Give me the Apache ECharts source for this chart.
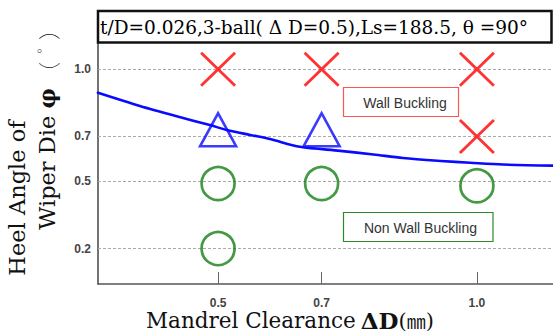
<!DOCTYPE html>
<html><head><meta charset="utf-8">
<script src="https://cdn.jsdelivr.net/npm/echarts@6/dist/echarts.min.js"></script>
<style>html,body{margin:0;padding:0;background:#fff}#c{width:553px;height:334px}</style>
</head><body><div id="c"></div>
<script>
// ---- data ----
const xTicks = [0.5, 0.7, 1.0];
const yTicks = [0.2, 0.5, 0.7, 1.0];
const wallBuckling = [[0.5, 1.0], [0.7, 1.0], [1.0, 1.0], [1.0, 0.7]];
const transition = [[0.5, 0.73], [0.7, 0.73]];
const nonBuckling = [[0.5, 0.49], [0.7, 0.49], [1.0, 0.48], [0.5, 0.2]];
const boundaryX = [0.268, 0.349, 0.420, 0.484, 0.517, 0.562, 0.600, 0.658, 0.736, 0.800, 0.857, 0.930, 0.987, 1.050, 1.147];
const boundaryY = [0.895, 0.836, 0.790, 0.751, 0.729, 0.707, 0.689, 0.654, 0.636, 0.620, 0.604, 0.591, 0.583, 0.575, 0.570];
const titleText = 't/D=0.026,3-ball( Δ D=0.5),Ls=188.5, θ =90°';

const chart = echarts.init(document.getElementById('c'), null, {renderer: 'svg'});
const serif = '"DejaVu Serif", serif';
const labelStyle = {fontFamily: '"Liberation Sans", Arial, sans-serif', fontSize: 12, fontWeight: 'bold', color: '#444', lineHeight: 13};

chart.setOption({
  animation: false,
  backgroundColor: '#fff',
  grid: {left: 98, right: 0, top: 43, bottom: 50, containLabel: false},
  xAxis: {
    type: 'value', min: 0.268, max: 1.147,
    axisLine: {show: true, lineStyle: {color: '#555', width: 1.5}},
    axisTick: {show: true, inside: true, length: 12, customValues: xTicks, lineStyle: {color: '#666', width: 1}},
    axisLabel: Object.assign({customValues: xTicks, margin: 12, formatter: v => v.toFixed(1)}, labelStyle),
    splitLine: {show: false}
  },
  yAxis: {
    type: 'value', min: 0.042, max: 1.117,
    axisLine: {show: true, lineStyle: {color: '#444', width: 1.5}},
    axisTick: {show: false},
    axisLabel: Object.assign({customValues: yTicks, margin: 7, formatter: v => v.toFixed(1)}, labelStyle),
    splitLine: {show: false}
  },
  series: [
    {
      type: 'line', silent: true, z: 1,
      data: [], symbol: 'none',
      markLine: {
        silent: true, symbol: 'none', label: {show: false},
        lineStyle: {color: '#aaa', type: [3, 2], width: 1},
        data: yTicks.map(v => ({yAxis: v}))
      }
    },
    {
      type: 'line', z: 8, smooth: 0.3, symbol: 'none', silent: true,
      data: boundaryX.map((x, i) => [x, boundaryY[i]]),
      lineStyle: {color: '#0a0aff', width: 2.6, join: 'round', cap: 'round'}
    },
    {
      type: 'scatter', z: 9, silent: true,
      symbol: 'path://M0,0L10,10M10,0L0,10', symbolSize: [34, 33],
      itemStyle: {color: 'rgba(0,0,0,0)', borderColor: '#ff0000', borderWidth: 2.8},
      data: wallBuckling
    },
    {
      type: 'scatter', z: 9, silent: true,
      symbol: 'triangle', symbolSize: [36, 33],
      itemStyle: {color: 'rgba(0,0,0,0)', borderColor: '#0a0aff', borderWidth: 2.6},
      data: transition
    },
    {
      type: 'scatter', z: 9, silent: true,
      symbol: 'circle', symbolSize: 33,
      itemStyle: {color: 'rgba(0,0,0,0)', borderColor: '#158015', borderWidth: 2.7},
      data: nonBuckling
    }
  ],
  graphic: [
    {type: 'rect', z: 10, shape: {x: 98, y: 11, width: 453.5, height: 31.5},
     style: {fill: '#fff', stroke: '#111', lineWidth: 2.5}},
    {type: 'text', z: 11, x: 100, y: 27,
     style: {text: titleText, font: '18.5px ' + serif, fill: '#000', textAlign: 'left', textVerticalAlign: 'middle'}},
    {type: 'rect', z: 10, shape: {x: 343.5, y: 87.5, width: 115, height: 29},
     style: {fill: '#fff', stroke: '#ff5555', lineWidth: 1.2}},
    {type: 'text', z: 11, x: 405, y: 103,
     style: {text: 'Wall Buckling', font: '14px "Liberation Sans", Arial, sans-serif', fill: '#333', textAlign: 'center', textVerticalAlign: 'middle'}},
    {type: 'rect', z: 10, shape: {x: 343.5, y: 212.5, width: 149.5, height: 29},
     style: {fill: '#fff', stroke: '#2a8a2a', lineWidth: 1.2}},
    {type: 'text', z: 11, x: 420.5, y: 228,
     style: {text: 'Non Wall Buckling', font: '14px "Liberation Sans", Arial, sans-serif', fill: '#333', textAlign: 'center', textVerticalAlign: 'middle'}},
    {type: 'text', z: 11, x: 16.5, y: 198, rotation: Math.PI / 2,
     style: {text: 'Heel Angle of', font: '22.5px ' + serif, fill: '#111', textAlign: 'center', textVerticalAlign: 'middle'}},
    {type: 'text', z: 11, x: 47, y: 159, rotation: Math.PI / 2,
     style: {text: '{a|Wiper Die }{b|φ}', fill: '#111', textAlign: 'center', textVerticalAlign: 'middle',
       rich: {a: {fontFamily: serif, fontSize: 22.5, lineHeight: 24, fill: '#111'},
              b: {fontFamily: serif, fontSize: 22.5, lineHeight: 24, fontWeight: 'bold', fill: '#111'}}}},
    {type: 'text', z: 11, x: 47, y: 51, rotation: Math.PI / 2,
     style: {text: '{c|（}{d|°}{c|）}', fill: '#111', textAlign: 'center', textVerticalAlign: 'middle',
       rich: {c: {fontFamily: '"Noto Sans CJK JP"', fontSize: 22, lineHeight: 24, fontWeight: 'lighter', fill: '#111'},
              d: {fontFamily: '"Noto Sans CJK JP"', fontSize: 15, lineHeight: 24, fontWeight: 'lighter', fill: '#111', width: 22, align: 'left', verticalAlign: 'top'}}}},
    {type: 'text', z: 11, x: 290, y: 320.5,
     style: {text: '{a|Mandrel Clearance}{b|ΔD}{c|(}{e|㎜}{c|)}', fill: '#111', textAlign: 'center', textVerticalAlign: 'middle',
       rich: {a: {fontFamily: serif, fontSize: 21.5, lineHeight: 20, fill: '#111', padding: [0, 5, 0, 0]},
              b: {fontFamily: serif, fontSize: 23, lineHeight: 20, fontWeight: 'bold', fill: '#111'},
              c: {fontFamily: serif, fontSize: 21, lineHeight: 20, fill: '#111'},
              e: {fontFamily: '"Noto Sans CJK JP"', fontSize: 19, lineHeight: 20, fill: '#111'}}}}
  ]
});
</script></body></html>
